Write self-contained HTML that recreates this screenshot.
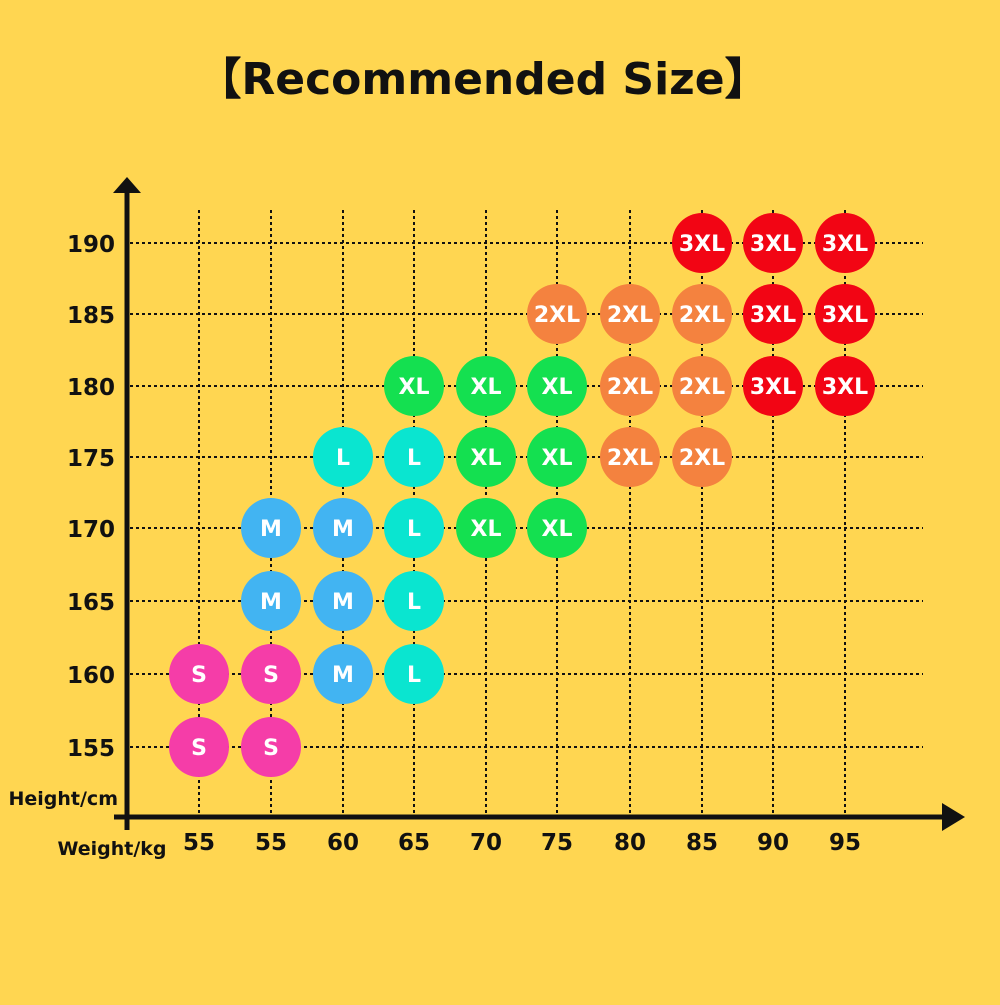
<!DOCTYPE html><html><head><meta charset="utf-8"><style>body{margin:0;background:#FFD651}</style></head><body>
<svg width="1000" height="1000" xmlns="http://www.w3.org/2000/svg" font-family="'Comic Sans MS','DejaVu Sans',sans-serif">
<rect width="1000" height="1000" fill="#FFD651"/>
<text x="483" y="94" font-size="44" text-anchor="middle" fill="#111" font-weight="bold">【Recommended Size】</text>
<g stroke="#111" stroke-width="2" stroke-dasharray="3,3" id="g"></g>
<line x1="127" y1="190" x2="127" y2="830" stroke="#111" stroke-width="5"/>
<polygon points="127,177 113,193 141,193" fill="#111"/>
<line x1="114" y1="817" x2="950" y2="817" stroke="#111" stroke-width="5"/>
<polygon points="965,817 942,803 942,831" fill="#111"/>
<g id="c"></g>
<g font-size="23" fill="#111" text-anchor="end" id="yl" font-weight="bold"></g>
<g font-size="23" fill="#111" text-anchor="middle" id="xl" font-weight="bold"></g>
<text x="118" y="805" font-size="19" text-anchor="end" fill="#111" font-weight="bold">Height/cm</text>
<text x="112" y="855" font-size="19" text-anchor="middle" fill="#111" font-weight="bold">Weight/kg</text>
</svg>
<script>
var ns="http://www.w3.org/2000/svg";
var X=[199,271,343,414,486,557,630,702,773,845],Y=[243,314,386,457,528,601,674,747];
function el(p,t,a,txt){var e=document.createElementNS(ns,t);for(var k in a)e.setAttribute(k,a[k]);if(txt)e.textContent=txt;document.getElementById(p).appendChild(e);}
X.forEach(function(x){el("g","line",{x1:x,y1:210,x2:x,y2:817});});
Y.forEach(function(y){el("g","line",{x1:130,y1:y,x2:923,y2:y});});
var hy=[190,185,180,175,170,165,160,155];
Y.forEach(function(y,i){el("yl","text",{x:115,y:y+9},String(hy[i]));});
["55","55","60","65","70","75","80","85","90","95"].forEach(function(t,i){el("xl","text",{x:X[i],y:850},t);});
var C={S:"#F53DA8",M:"#42B4F2",L:"#0AE5D0",XL:"#14E050","2XL":"#F4823F","3XL":"#F20514"};
var rows=[[[7,"3XL"],[8,"3XL"],[9,"3XL"]],
[[5,"2XL"],[6,"2XL"],[7,"2XL"],[8,"3XL"],[9,"3XL"]],
[[3,"XL"],[4,"XL"],[5,"XL"],[6,"2XL"],[7,"2XL"],[8,"3XL"],[9,"3XL"]],
[[2,"L"],[3,"L"],[4,"XL"],[5,"XL"],[6,"2XL"],[7,"2XL"]],
[[1,"M"],[2,"M"],[3,"L"],[4,"XL"],[5,"XL"]],
[[1,"M"],[2,"M"],[3,"L"]],
[[0,"S"],[1,"S"],[2,"M"],[3,"L"]],
[[0,"S"],[1,"S"]]];
rows.forEach(function(r,i){r.forEach(function(c){var x=X[c[0]],y=Y[i];
el("c","circle",{cx:x,cy:y,r:30,fill:C[c[1]]});
el("c","text",{x:x,y:y+8,"font-size":22,"font-weight":"bold",fill:"#fff","text-anchor":"middle"},c[1]);});});
</script>
</body></html>
